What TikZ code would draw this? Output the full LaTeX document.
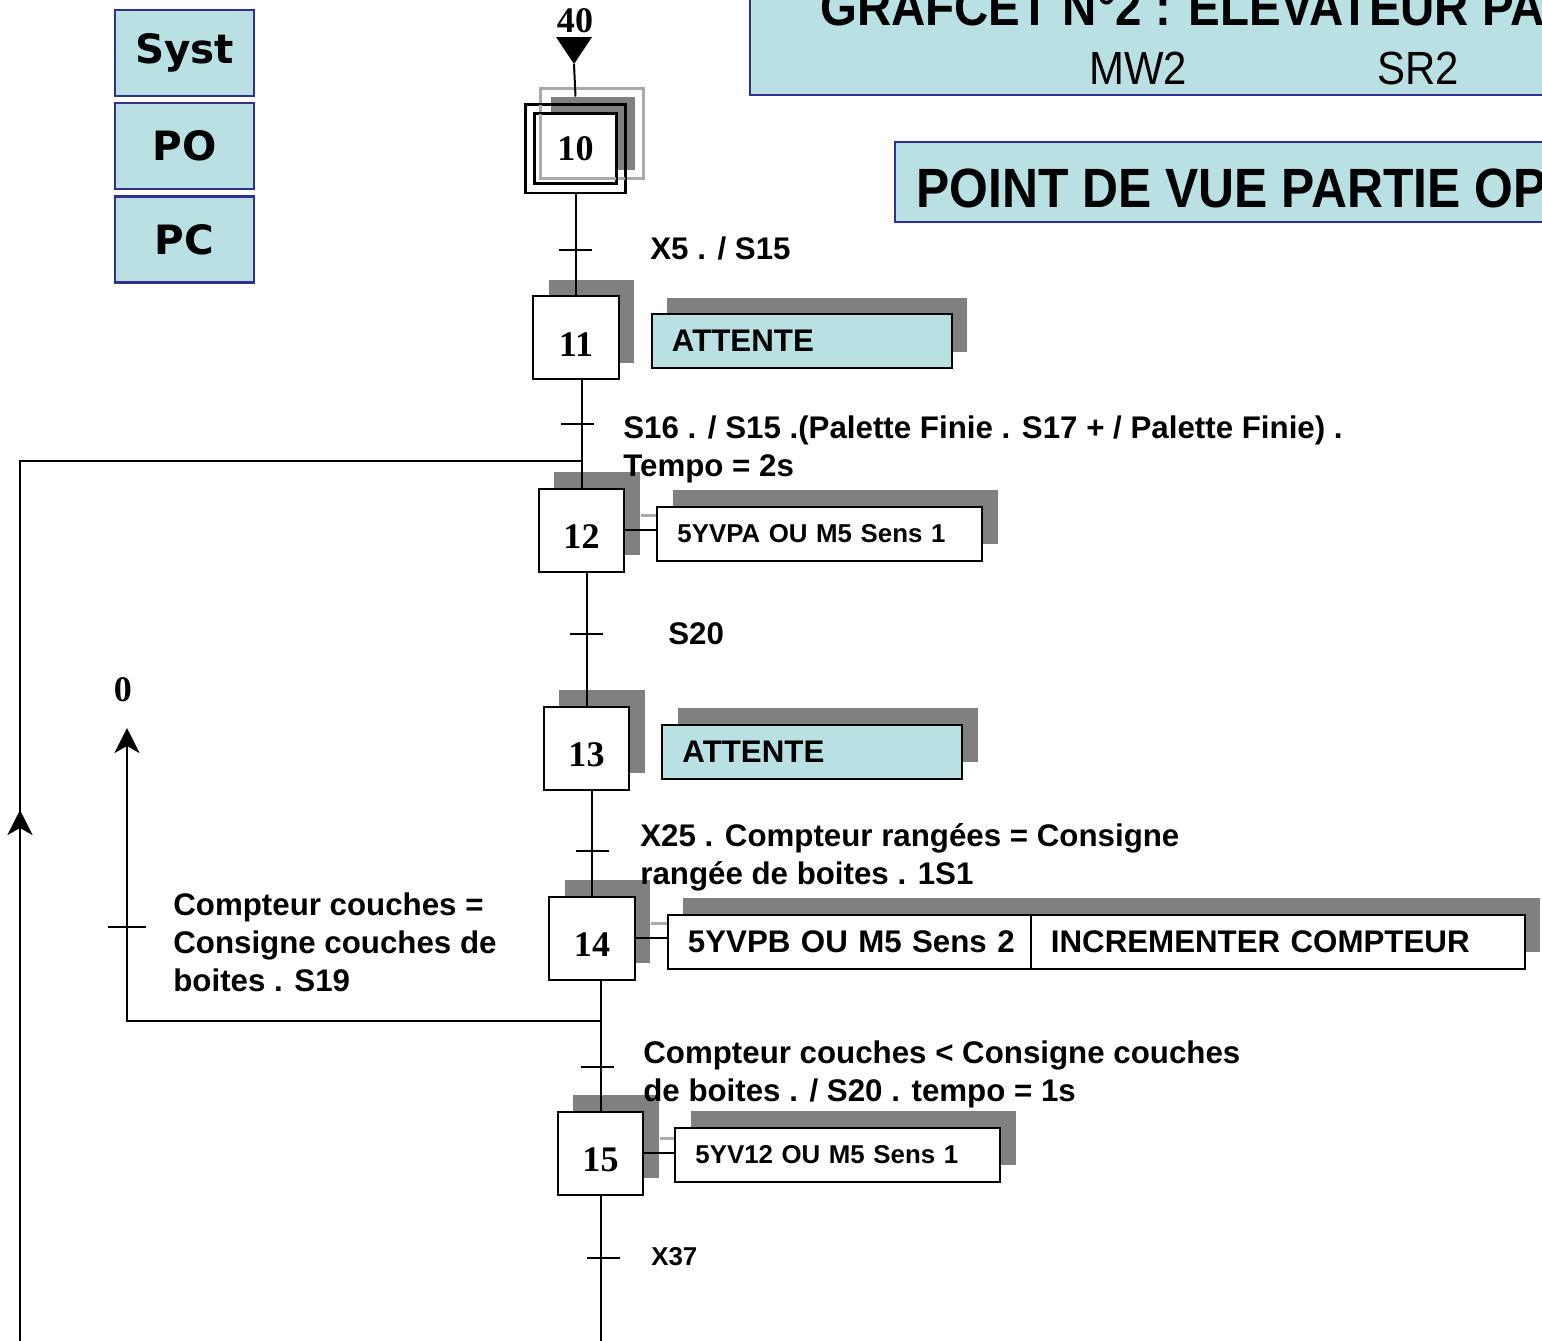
\documentclass[tikz,border=0pt]{standalone}
\usepackage{fontspec}
\setmainfont{Liberation Serif}
\setsansfont{Liberation Sans}
\newfontfamily\titrefont[FakeStretch=0.9]{Liberation Sans}
\newfontfamily\cadrefont{DejaVu Sans}
\usepackage{tikz}
\usetikzlibrary{positioning, arrows.meta, shadows, backgrounds, fit}

\definecolor{bleuclair}{RGB}{185,224,227}
\definecolor{bleufonce}{RGB}{46,49,146}
\definecolor{ombre}{RGB}{128,128,128}
\definecolor{ombreclaire}{RGB}{170,170,170}

\tikzset{
    ombre_portee/.style={
        drop shadow={shadow xshift=0.31cm, shadow yshift=0.33cm, fill=ombre, opacity=1}
    },
    etape/.style={
        draw=black, line width=0.04cm, fill=white,
        minimum width=1.72cm, minimum height=1.66cm,
        text height=0.74cm, text depth=0cm,
        font=\bfseries\fontsize{20.5}{24}\selectfont,
        ombre_portee
    },
    etape_init/.style={
        draw=black, line width=0.04cm, fill=white,
        minimum width=1.62cm, minimum height=1.38cm,
        font=\bfseries\fontsize{20.5}{24}\selectfont
    },
    cadre_init/.style={draw=black, line width=0.04cm, inner sep=0.17cm},
    action/.style={
        draw=black, line width=0.04cm, fill=white,
        minimum height=1.08cm, inner xsep=0.4cm, align=left,
        font=\sffamily\bfseries\fontsize{17.8}{21}\selectfont,
        ombre_portee
    },
    petite/.style={font=\sffamily\bfseries\fontsize{14.7}{18}\selectfont},
    recept/.style={anchor=base west, inner sep=0pt, align=left,
        font=\sffamily\bfseries\fontsize{17.8}{21.5}\selectfont},
    cadre/.style={draw=bleufonce, line width=0.045cm, fill=bleuclair},
    cadre_menu/.style={cadre, minimum width=2.78cm, minimum height=1.72cm,
        font=\cadrefont\bfseries\fontsize{23}{26}\selectfont},
    lien/.style={line width=0.04cm},
    remontee/.style={line width=0.04cm, -{Stealth[length=0.5cm, width=0.5cm, inset=0.14cm]}}
}

\begin{document}
\begin{tikzpicture}[x=0.02cm, y=-0.02cm]
\useasboundingbox (0,0) rectangle (1542,1340);
\clip (0,0) rectangle (1542,1340);

% cadres de gauche
\node[cadre_menu] (syst) at (184.5,53) {Syst};
\node[cadre_menu, below=0.1cm of syst] (po) {PO};
\node[cadre_menu, below=0.1cm of po] (pc) {PC};

% titres
\draw[cadre] (750,-20) rectangle (1600,95);
\node[anchor=base west, inner sep=0pt, font=\titrefont\bfseries\fontsize{30}{30}\selectfont] (titre) at (820,25) {GRAFCET N°2 : ELEVATEUR PA};
\node[anchor=base west, inner sep=0pt, font=\titrefont\fontsize{26.5}{30}\selectfont] (mw) at (1089,84) {MW2};
\node[anchor=base west, inner sep=0pt, font=\titrefont\fontsize{26.5}{30}\selectfont] (sr) at (1377,84) {SR2};
\draw[cadre] (895,142) rectangle (1600,222);
\node[anchor=base west, inner sep=0pt, font=\titrefont\bfseries\fontsize{31.5}{32}\selectfont] (vue) at (916,207) {POINT DE VUE PARTIE OP};

% etapes
\node[font=\bfseries\fontsize{20.5}{24}\selectfont] (n40) at (575,21) {40};
\fill (556,37) -- (592,37) -- (574,64) coordinate (e40) -- cycle;
\node[etape_init] (s10) at (575.5,148.5) {10};
\node[cadre_init, fit=(s10)] (s10ext) {};
\node[etape] (s11) at (576,337.5) {11};
\node[etape] (s12) at (581.5,530) {12};
\node[etape] (s13) at (586.5,748) {13};
\node[etape] (s14) at (592,938) {14};
\node[etape] (s15) at (600.5,1153) {15};

% actions
\node[action, fill=bleuclair, text width=5.2cm, right=0.62cm of s11, yshift=-0.07cm] (a11) {ATTENTE};
\node[action, petite, text width=5.7cm, right=0.62cm of s12, yshift=-0.07cm] (a12) {5YVPA OU M5 Sens 1};
\node[action, fill=bleuclair, text width=5.2cm, right=0.62cm of s13, yshift=-0.07cm] (a13) {ATTENTE};
\node[action, text width=6.86cm, right=0.62cm of s14, yshift=-0.07cm] (a14) {5YVPB OU M5 Sens 2};
\node[action, text width=9.08cm, right=-0.44cm of a14] (a14b) {INCREMENTER COMPTEUR};
\node[action, petite, text width=5.7cm, right=0.6cm of s15, yshift=-0.03cm] (a15) {5YV12 OU M5 Sens 1};

% ombres de l'etape initiale et des liaisons
\begin{scope}[on background layer]
    \fill[ombre] ([shift={(-25,-51.5)}]s10.center) rectangle ([shift={(59,21.5)}]s10.center);
    \draw[ombreclaire, line width=0.06cm] ([xshift=0.31cm, yshift=0.3cm]s12.east) -- ([yshift=0.3cm]s12.east -| a12.west);
    \draw[ombreclaire, line width=0.06cm] ([xshift=0.31cm, yshift=0.3cm]s14.east) -- ([yshift=0.3cm]s14.east -| a14.west);
    \draw[ombreclaire, line width=0.06cm] ([xshift=0.31cm, yshift=0.3cm]s15.east) -- ([yshift=0.3cm]s15.east -| a15.west);
\end{scope}
\draw[ombreclaire, line width=0.06cm] ([shift={(-35,-60.5)}]s10.center) rectangle ([shift={(68,29.5)}]s10.center);
\draw[line width=0.04cm] (s10.north west) rectangle (s10.south east);
\draw[line width=0.04cm] (s10ext.north west) rectangle (s10ext.south east);

% liaisons
\draw[lien] (e40) -- ([yshift=0.14cm]s10ext.north);
\draw[lien] (s10ext.south) -- (s10ext.south |- s11.north);
\draw[lien] (s11.south -| s12.north) -- (s12.north);
\draw[lien] (s12.south -| s13.north) -- (s13.north);
\draw[lien] (s13.south -| s14.north) -- (s14.north);
\draw[lien] (s14.south -| s15.north) -- (s15.north);
\coordinate (fin) at (602,1345);
\draw[lien] (s15.south) -- (s15.south |- fin);
\draw[lien] (s12.east) -- (s12.east -| a12.west);
\draw[lien] (s14.east) -- (s14.east -| a14.west);
\draw[lien] (s15.east) -- (s15.east -| a15.west);

% renvois
\coordinate (j1) at (581.5,461);
\coordinate (retour) at (20,1345);
\draw[lien] (retour) |- (j1);
\draw[remontee] (retour) -- (20,810);
\coordinate (j2) at (600.5,1021);
\coordinate (vers0) at (127,728);
\draw[remontee] (j2) -| (vers0);
\node[font=\bfseries\fontsize{20.5}{24}\selectfont] (zero) at (123,690) {0};

% transitions
\coordinate (t1) at (575,250);
\coordinate (t2) at (577,424);
\coordinate (t3) at (586.5,634);
\coordinate (t4) at (592,851);
\coordinate (t5) at (597,1067);
\coordinate (t6) at (603,1258);
\coordinate (t7) at (127,927);
\foreach \t in {t1,t2,t3,t4,t5,t6}
    \draw[lien] ([xshift=-0.33cm]\t) -- ([xshift=0.33cm]\t);
\draw[lien] ([xshift=-0.38cm]t7) -- ([xshift=0.38cm]t7);

% receptivites (base = derniere ligne)
\node[recept] (r1) at (650,259) {X5 . / S15};
\node[recept] (r2) at (623,476) {S16 . / S15 .(Palette Finie . S17 + / Palette Finie) .\\Tempo = 2s};
\node[recept] (r3) at (668,644) {S20};
\node[recept] (r4) at (640,884) {X25 . Compteur rangées = Consigne\\rangée de boites . 1S1};
\node[recept] (r5) at (643,1101) {Compteur couches < Consigne couches\\de boites . / S20 . tempo = 1s};
\node[recept, petite] (r6) at (651,1265) {X37};
\node[recept] (r7) at (173,991) {Compteur couches =\\Consigne couches de\\boites . S19};
\end{tikzpicture}
\end{document}
